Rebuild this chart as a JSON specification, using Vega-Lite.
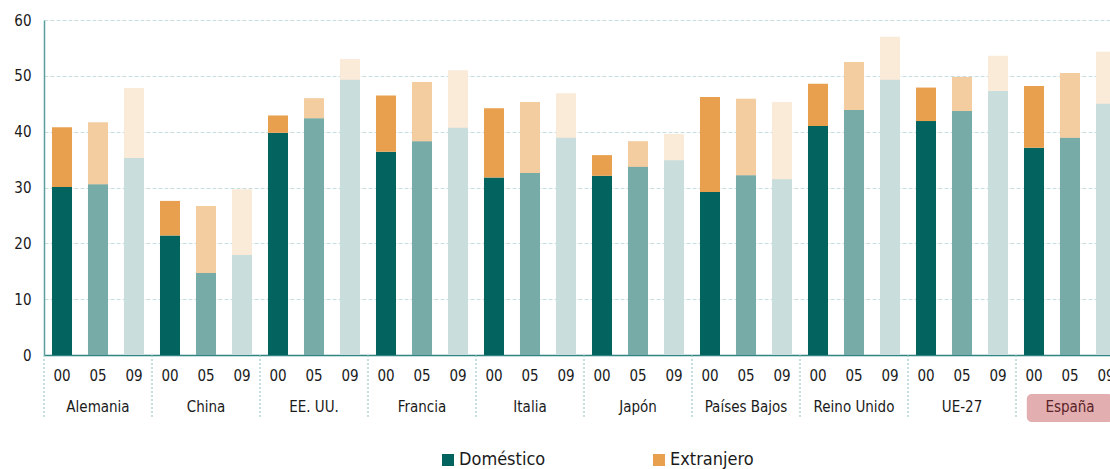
{
  "$schema": "https://vega.github.io/schema/vega-lite/v6.json",
  "width": 1066,
  "height": 335,
  "autosize": {"type": "none"},
  "padding": {"left": 44, "top": 20, "right": 0, "bottom": 114},
  "background": "white",
  "config": {
    "font": "DejaVu Sans Condensed, DejaVu Sans",
    "view": {"stroke": null},
    "axis": {"labelFont": "DejaVu Sans Condensed, DejaVu Sans", "labelColor": "#1a1a1a", "labelFontSize": 15, "title": null}
  },
  "datasets": {
    "bars": [
      {"pais": "Alemania", "anio": "00", "clave": "Alemania|00", "serie": "Doméstico", "valor": 30.1},
      {"pais": "Alemania", "anio": "00", "clave": "Alemania|00", "serie": "Extranjero", "valor": 10.7},
      {"pais": "Alemania", "anio": "05", "clave": "Alemania|05", "serie": "Doméstico", "valor": 30.6},
      {"pais": "Alemania", "anio": "05", "clave": "Alemania|05", "serie": "Extranjero", "valor": 11.1},
      {"pais": "Alemania", "anio": "09", "clave": "Alemania|09", "serie": "Doméstico", "valor": 35.3},
      {"pais": "Alemania", "anio": "09", "clave": "Alemania|09", "serie": "Extranjero", "valor": 12.5},
      {"pais": "China", "anio": "00", "clave": "China|00", "serie": "Doméstico", "valor": 21.4},
      {"pais": "China", "anio": "00", "clave": "China|00", "serie": "Extranjero", "valor": 6.2},
      {"pais": "China", "anio": "05", "clave": "China|05", "serie": "Doméstico", "valor": 14.7},
      {"pais": "China", "anio": "05", "clave": "China|05", "serie": "Extranjero", "valor": 12.0},
      {"pais": "China", "anio": "09", "clave": "China|09", "serie": "Doméstico", "valor": 17.9},
      {"pais": "China", "anio": "09", "clave": "China|09", "serie": "Extranjero", "valor": 11.8},
      {"pais": "EE. UU.", "anio": "00", "clave": "EE. UU.|00", "serie": "Doméstico", "valor": 39.8},
      {"pais": "EE. UU.", "anio": "00", "clave": "EE. UU.|00", "serie": "Extranjero", "valor": 3.1},
      {"pais": "EE. UU.", "anio": "05", "clave": "EE. UU.|05", "serie": "Doméstico", "valor": 42.4},
      {"pais": "EE. UU.", "anio": "05", "clave": "EE. UU.|05", "serie": "Extranjero", "valor": 3.6},
      {"pais": "EE. UU.", "anio": "09", "clave": "EE. UU.|09", "serie": "Doméstico", "valor": 49.3},
      {"pais": "EE. UU.", "anio": "09", "clave": "EE. UU.|09", "serie": "Extranjero", "valor": 3.7},
      {"pais": "Francia", "anio": "00", "clave": "Francia|00", "serie": "Doméstico", "valor": 36.4},
      {"pais": "Francia", "anio": "00", "clave": "Francia|00", "serie": "Extranjero", "valor": 10.1},
      {"pais": "Francia", "anio": "05", "clave": "Francia|05", "serie": "Doméstico", "valor": 38.3},
      {"pais": "Francia", "anio": "05", "clave": "Francia|05", "serie": "Extranjero", "valor": 10.6},
      {"pais": "Francia", "anio": "09", "clave": "Francia|09", "serie": "Doméstico", "valor": 40.7},
      {"pais": "Francia", "anio": "09", "clave": "Francia|09", "serie": "Extranjero", "valor": 10.3},
      {"pais": "Italia", "anio": "00", "clave": "Italia|00", "serie": "Doméstico", "valor": 31.8},
      {"pais": "Italia", "anio": "00", "clave": "Italia|00", "serie": "Extranjero", "valor": 12.4},
      {"pais": "Italia", "anio": "05", "clave": "Italia|05", "serie": "Doméstico", "valor": 32.6},
      {"pais": "Italia", "anio": "05", "clave": "Italia|05", "serie": "Extranjero", "valor": 12.7},
      {"pais": "Italia", "anio": "09", "clave": "Italia|09", "serie": "Doméstico", "valor": 38.9},
      {"pais": "Italia", "anio": "09", "clave": "Italia|09", "serie": "Extranjero", "valor": 8.0},
      {"pais": "Japón", "anio": "00", "clave": "Japón|00", "serie": "Doméstico", "valor": 32.1},
      {"pais": "Japón", "anio": "00", "clave": "Japón|00", "serie": "Extranjero", "valor": 3.7},
      {"pais": "Japón", "anio": "05", "clave": "Japón|05", "serie": "Doméstico", "valor": 33.7},
      {"pais": "Japón", "anio": "05", "clave": "Japón|05", "serie": "Extranjero", "valor": 4.6},
      {"pais": "Japón", "anio": "09", "clave": "Japón|09", "serie": "Doméstico", "valor": 34.9},
      {"pais": "Japón", "anio": "09", "clave": "Japón|09", "serie": "Extranjero", "valor": 4.7},
      {"pais": "Países Bajos", "anio": "00", "clave": "Países Bajos|00", "serie": "Doméstico", "valor": 29.2},
      {"pais": "Países Bajos", "anio": "00", "clave": "Países Bajos|00", "serie": "Extranjero", "valor": 17.0},
      {"pais": "Países Bajos", "anio": "05", "clave": "Países Bajos|05", "serie": "Doméstico", "valor": 32.2},
      {"pais": "Países Bajos", "anio": "05", "clave": "Países Bajos|05", "serie": "Extranjero", "valor": 13.7},
      {"pais": "Países Bajos", "anio": "09", "clave": "Países Bajos|09", "serie": "Doméstico", "valor": 31.5},
      {"pais": "Países Bajos", "anio": "09", "clave": "Países Bajos|09", "serie": "Extranjero", "valor": 13.8},
      {"pais": "Reino Unido", "anio": "00", "clave": "Reino Unido|00", "serie": "Doméstico", "valor": 41.0},
      {"pais": "Reino Unido", "anio": "00", "clave": "Reino Unido|00", "serie": "Extranjero", "valor": 7.6},
      {"pais": "Reino Unido", "anio": "05", "clave": "Reino Unido|05", "serie": "Doméstico", "valor": 43.9},
      {"pais": "Reino Unido", "anio": "05", "clave": "Reino Unido|05", "serie": "Extranjero", "valor": 8.6},
      {"pais": "Reino Unido", "anio": "09", "clave": "Reino Unido|09", "serie": "Doméstico", "valor": 49.3},
      {"pais": "Reino Unido", "anio": "09", "clave": "Reino Unido|09", "serie": "Extranjero", "valor": 7.7},
      {"pais": "UE-27", "anio": "00", "clave": "UE-27|00", "serie": "Doméstico", "valor": 41.9},
      {"pais": "UE-27", "anio": "00", "clave": "UE-27|00", "serie": "Extranjero", "valor": 6.0},
      {"pais": "UE-27", "anio": "05", "clave": "UE-27|05", "serie": "Doméstico", "valor": 43.7},
      {"pais": "UE-27", "anio": "05", "clave": "UE-27|05", "serie": "Extranjero", "valor": 6.1},
      {"pais": "UE-27", "anio": "09", "clave": "UE-27|09", "serie": "Doméstico", "valor": 47.3},
      {"pais": "UE-27", "anio": "09", "clave": "UE-27|09", "serie": "Extranjero", "valor": 6.3},
      {"pais": "España", "anio": "00", "clave": "España|00", "serie": "Doméstico", "valor": 37.1},
      {"pais": "España", "anio": "00", "clave": "España|00", "serie": "Extranjero", "valor": 11.1},
      {"pais": "España", "anio": "05", "clave": "España|05", "serie": "Doméstico", "valor": 38.9},
      {"pais": "España", "anio": "05", "clave": "España|05", "serie": "Extranjero", "valor": 11.6},
      {"pais": "España", "anio": "09", "clave": "España|09", "serie": "Doméstico", "valor": 45.0},
      {"pais": "España", "anio": "09", "clave": "España|09", "serie": "Extranjero", "valor": 9.3}
    ],
    "paises": [
      {"pais": "Alemania", "inicio": "Alemania|00", "centro": "Alemania|05"},
      {"pais": "China", "inicio": "China|00", "centro": "China|05"},
      {"pais": "EE. UU.", "inicio": "EE. UU.|00", "centro": "EE. UU.|05"},
      {"pais": "Francia", "inicio": "Francia|00", "centro": "Francia|05"},
      {"pais": "Italia", "inicio": "Italia|00", "centro": "Italia|05"},
      {"pais": "Japón", "inicio": "Japón|00", "centro": "Japón|05"},
      {"pais": "Países Bajos", "inicio": "Países Bajos|00", "centro": "Países Bajos|05"},
      {"pais": "Reino Unido", "inicio": "Reino Unido|00", "centro": "Reino Unido|05"},
      {"pais": "UE-27", "inicio": "UE-27|00", "centro": "UE-27|05"},
      {"pais": "España", "inicio": "España|00", "centro": "España|05"}
    ]
  },
  "encoding": {
    "x": {
      "field": "clave",
      "type": "nominal",
      "scale": {
        "domain": ["Alemania|00","Alemania|05","Alemania|09","China|00","China|05","China|09","EE. UU.|00","EE. UU.|05","EE. UU.|09","Francia|00","Francia|05","Francia|09","Italia|00","Italia|05","Italia|09","Japón|00","Japón|05","Japón|09","Países Bajos|00","Países Bajos|05","Países Bajos|09","Reino Unido|00","Reino Unido|05","Reino Unido|09","UE-27|00","UE-27|05","UE-27|09","España|00","España|05","España|09"],
        "range": [0, 1080],
        "paddingInner": 0,
        "paddingOuter": 0
      },
      "axis": {
        "labelExpr": "split(datum.value, '|')[1]",
        "labelAngle": 0,
        "ticks": false,
        "labelPadding": 13,
        "domainColor": "#2e8582",
        "domainWidth": 1.5,
        "grid": false
      }
    }
  },
  "layer": [
    {
      "data": {"name": "bars"},
      "mark": {"type": "bar", "width": {"band": 0.556}, "color": "white"},
      "encoding": {
        "y": {"field": "valor", "type": "quantitative", "stack": "zero", "scale": {"domain": [0, 60], "nice": false},
          "axis": {"values": [0, 10, 20, 30, 40, 50, 60], "ticks": false, "labelPadding": 13, "domainColor": "#5a9f9c", "domainWidth": 1.5, "gridColor": "#c8dfdf", "gridDash": [4, 2], "gridWidth": 1, "minExtent": 34, "maxExtent": 34}},
        "order": {"field": "serie"}
      }
    },
    {
      "data": {"name": "bars"},
      "mark": {"type": "bar", "width": {"band": 0.556}},
      "encoding": {
        "y": {"field": "valor", "type": "quantitative", "stack": "zero", "scale": {"domain": [0, 60], "nice": false}},
        "order": {"field": "serie"},
        "color": {
          "field": "serie",
          "type": "nominal",
          "scale": {"domain": ["Doméstico", "Extranjero"], "range": ["#03645f", "#e8a04e"]},
          "legend": {
            "title": null,
            "orient": "none",
            "direction": "horizontal",
            "legendX": 395,
            "legendY": 431,
            "symbolType": "square",
            "symbolSize": 144,
            "symbolStrokeWidth": 0,
            "labelFontSize": 18,
            "labelColor": "#1a1a1a",
            "labelOffset": 2,
            "columnPadding": 104
          }
        },
        "opacity": {
          "field": "anio",
          "type": "nominal",
          "scale": {"type": "ordinal", "domain": ["00", "05", "09"], "range": [1, 0.54, 0.22]},
          "legend": null
        }
      }
    },
    {
      "mark": {"type": "rule", "color": "#2e8582", "strokeWidth": 1.5},
      "encoding": {"x": null, "y": {"datum": 60, "scale": {"domain": [0, 60], "nice": false}}}
    },
    {
      "data": {"name": "paises"},
      "mark": {"type": "rule", "color": "#8cc0bd", "strokeDash": [2, 2], "strokeWidth": 1},
      "encoding": {
        "x": {"field": "inicio", "type": "nominal", "bandPosition": 0},
        "y": {"datum": 0, "scale": {"domain": [0, 60], "nice": false}},
        "y2": {"datum": -11.4}
      }
    },
    {
      "data": {"name": "paises"},
      "transform": [{"filter": "datum.pais === 'España'"}],
      "mark": {"type": "bar", "width": {"band": 2.4}, "color": "#e2aeb0", "cornerRadius": 5},
      "encoding": {
        "x": {"field": "centro", "type": "nominal"},
        "y": {"datum": -7.0, "scale": {"domain": [0, 60], "nice": false}},
        "y2": {"datum": -12.0}
      }
    },
    {
      "data": {"name": "paises"},
      "mark": {"type": "text", "fontSize": 15, "baseline": "middle", "align": "center"},
      "encoding": {
        "x": {"field": "centro", "type": "nominal", "bandPosition": 0.5},
        "y": {"datum": -9.3, "scale": {"domain": [0, 60], "nice": false}},
        "text": {"field": "pais"},
        "color": {"condition": {"test": "datum.pais === 'España'", "value": "#5a2226"}, "value": "#1a1a1a"}
      }
    }
  ]
}
